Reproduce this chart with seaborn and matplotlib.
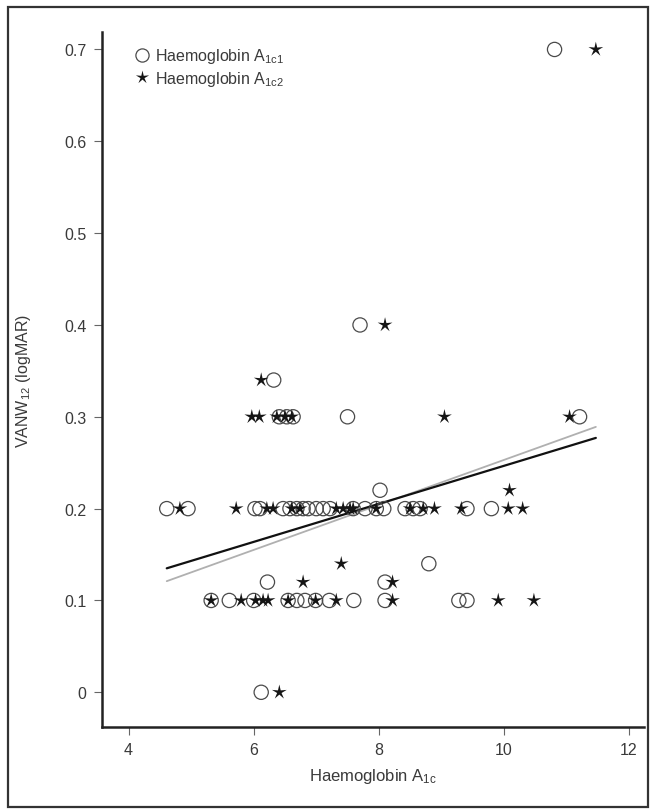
import numpy as np
import pandas as pd
import matplotlib
matplotlib.use("Agg")
import matplotlib.pyplot as plt
from matplotlib.path import Path
from matplotlib.lines import Line2D
from matplotlib.patches import Rectangle
import seaborn as sns

# ---------------- data ----------------
# Haemoglobin A1c1 (open circles): (A1c value, VANW12)
a1c1_x = [10.81,
          7.70,
          6.32,
          6.41, 6.53, 6.63, 7.50, 11.21,
          8.02,
          4.61, 4.95, 6.02, 6.10, 6.47, 6.58, 6.69, 6.79, 6.87, 7.00, 7.11, 7.22,
          7.59, 7.78, 7.96, 8.08, 8.42, 8.55, 8.66, 9.41, 9.80,
          8.80,
          6.22, 8.10,
          5.32, 5.61, 6.00, 6.55, 6.69, 6.82, 6.99, 7.21, 7.60, 8.10, 9.28, 9.41,
          6.12]
a1c1_y = [0.70,
          0.40,
          0.34,
          0.30, 0.30, 0.30, 0.30, 0.30,
          0.22,
          0.20, 0.20, 0.20, 0.20, 0.20, 0.20, 0.20, 0.20, 0.20, 0.20, 0.20, 0.20,
          0.20, 0.20, 0.20, 0.20, 0.20, 0.20, 0.20, 0.20, 0.20,
          0.14,
          0.12, 0.12,
          0.10, 0.10, 0.10, 0.10, 0.10, 0.10, 0.10, 0.10, 0.10, 0.10, 0.10, 0.10,
          0.00]

# Haemoglobin A1c2 (stars)
a1c2_x = [11.47,
          8.10,
          6.12,
          5.97, 6.09, 6.37, 6.50, 6.61, 9.05, 11.05,
          10.09,
          4.82, 5.72, 6.21, 6.31, 6.61, 6.74, 7.32, 7.43, 7.54, 7.59, 7.96,
          8.50, 8.71, 8.89, 9.32, 10.07, 10.30,
          7.40,
          6.79, 8.22,
          5.32, 5.80, 6.03, 6.15, 6.23, 6.55, 6.99, 7.32, 8.22, 9.91, 10.48,
          6.41]
a1c2_y = [0.70,
          0.40,
          0.34,
          0.30, 0.30, 0.30, 0.30, 0.30, 0.30, 0.30,
          0.22,
          0.20, 0.20, 0.20, 0.20, 0.20, 0.20, 0.20, 0.20, 0.20, 0.20, 0.20,
          0.20, 0.20, 0.20, 0.20, 0.20, 0.20,
          0.14,
          0.12, 0.12,
          0.10, 0.10, 0.10, 0.10, 0.10, 0.10, 0.10, 0.10, 0.10, 0.10, 0.10,
          0.00]

# regression lines (end points)
fit1_x = [4.61, 11.47]   # grey line
fit1_y = [0.121, 0.289]
fit2_x = [4.61, 11.47]   # black line
fit2_y = [0.135, 0.277]

x_ticks = [4, 6, 8, 10, 12]
y_ticks = [0, 0.1, 0.2, 0.3, 0.4, 0.5, 0.6, 0.7]
y_ticklabels = ["0", "0.1", "0.2", "0.3", "0.4", "0.5", "0.6", "0.7"]

legend_labels = [r"Haemoglobin A$_{\mathregular{1c1}}$",
                 r"Haemoglobin A$_{\mathregular{1c2}}$"]
x_label = r"Haemoglobin A$_{\mathregular{1c}}$"
y_label = r"VANW$_{\mathregular{12}}$ (logMAR)"

# ---------------- style ----------------
sns.set_style("ticks")
plt.rcParams["font.family"] = ["Liberation Sans", "DejaVu Sans"]
plt.rcParams["mathtext.fontset"] = "custom"
plt.rcParams["mathtext.rm"] = "Liberation Sans"
plt.rcParams["mathtext.it"] = "Liberation Sans:italic"

TXT = "#3a3a3a"
star_path = Path.unit_regular_star(5, innerCircle=0.30)

fig = plt.figure(figsize=(6.54, 8.12), dpi=100)
ax = fig.add_axes([101.7 / 654, 84 / 812, (644 - 101.7) / 654, (779 - 84) / 812])

df1 = pd.DataFrame({"x": a1c1_x, "y": a1c1_y})
df2 = pd.DataFrame({"x": a1c2_x, "y": a1c2_y})

sns.lineplot(x=fit1_x, y=fit1_y, ax=ax, color="#b0b0b0", linewidth=1.3, zorder=1)
sns.lineplot(x=fit2_x, y=fit2_y, ax=ax, color="#111111", linewidth=1.6, zorder=2)

sns.scatterplot(data=df1, x="x", y="y", ax=ax, marker="o", s=105,
                facecolor="none", edgecolor="#4a4a4a", linewidth=0.9, zorder=3)
sns.scatterplot(data=df2, x="x", y="y", ax=ax, marker=star_path, s=125,
                color="#151515", edgecolor="none", linewidth=0, zorder=4)

ax.set_xlim(3.57, 12.24)
ax.set_ylim(-0.0378, 0.719)
ax.set_xticks(x_ticks)
ax.set_xticklabels([str(t) for t in x_ticks])
ax.set_yticks(y_ticks)
ax.set_yticklabels(y_ticklabels)

ax.tick_params(axis="both", direction="out", length=6, width=0.8,
               color="#666666", labelsize=11.5, labelcolor=TXT, pad=5)
for side in ["top", "right"]:
    ax.spines[side].set_visible(False)
for side in ["left", "bottom"]:
    ax.spines[side].set_linewidth(1.8)
    ax.spines[side].set_color("#222222")

ax.set_xlabel(x_label, fontsize=12, color=TXT, labelpad=6)
ax.set_ylabel(y_label, fontsize=11.5, color=TXT, labelpad=22)

handles = [
    Line2D([], [], linestyle="none", marker="o", markersize=9.5,
           markerfacecolor="none", markeredgecolor="#4a4a4a", markeredgewidth=0.9),
    Line2D([], [], linestyle="none", marker=star_path, markersize=10,
           markerfacecolor="#151515", markeredgecolor="none"),
]
ax.legend(handles, legend_labels, loc="upper left", bbox_to_anchor=(0.033, 1.0),
          frameon=False, fontsize=11.5, labelcolor=TXT, handlelength=1.0,
          handletextpad=0.3, labelspacing=0.2, borderaxespad=0.5)

# outer frame around the whole figure
fig.patches.append(Rectangle((8 / 654, 4 / 812), 640 / 654, 800 / 812,
                             transform=fig.transFigure, fill=False,
                             edgecolor="#333333", linewidth=1.6))

fig.savefig("out.png", dpi=100)
